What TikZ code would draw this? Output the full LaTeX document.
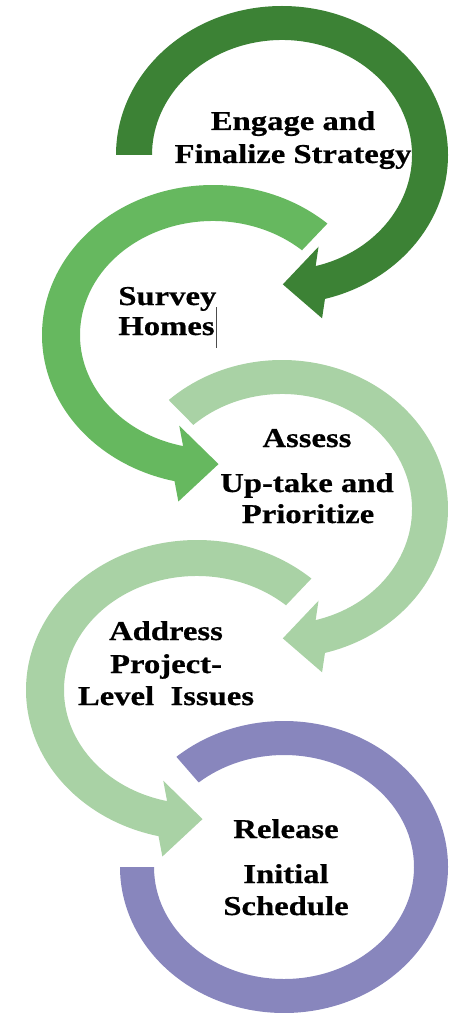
\documentclass[tikz,border=0pt]{standalone}
\usepackage{fontspec}
\setmainfont{Liberation Serif}[FakeStretch=1.2, BoldFeatures={FakeBold=0.6}]
\usepackage{tikz}
\usetikzlibrary{calc}
\usetikzlibrary{positioning}
\definecolor{darkgrn}{HTML}{3C8235}
\definecolor{midgrn}{HTML}{66B85F}
\definecolor{palegrn}{HTML}{A9D2A5}
\definecolor{lilac}{HTML}{8886BD}
% ring arrow: colour, centre, start, end, outer rx, ry, inner rx, ry, turn (1 ccw, -1 cw)
\newcommand{\ringarrow}[9]{%
  \pgfmathsetmacro\hrot{13*#9}
  \pgfmathsetmacro\htip{103*#9}
  \coordinate (ao) at ($(#2)+(#4:#5 and #6)$);
  \coordinate (ai) at ($(#2)+(#4:#7 and #8)$);
  \coordinate (am) at ($(ao)!0.5!(ai)$);
  \fill[#1] ($(#2)+(#3:#5 and #6)$) arc[start angle=#3, end angle=#4, x radius=#5, y radius=#6]
    -- ($(am)!2.1!\hrot:(ao)$) -- ($(am)!2.2!\htip:(ao)$) -- ($(am)!2.1!\hrot:(ai)$)
    -- (ai) arc[start angle=#4, end angle=#3, x radius=#7, y radius=#8] -- cycle;}

\begin{document}
\begin{tikzpicture}[x=0.02cm,y=0.02cm,
    steptext/.style={font=\bfseries\fontsize{15.5}{18}\selectfont, anchor=base, inner sep=0pt}]
  \useasboundingbox (0,0) rectangle (450,-1013);
  \coordinate (c1) at (282,-155);
  \coordinate (c2) at (213,-335);
  \coordinate (c3) at (282,-509);
  \coordinate (c4) at (197,-690);
  \coordinate (c5) at (284,-867);
  % arrows
  \ringarrow{darkgrn}{c1}{180}{-75}{166}{149}{130}{115}{-1}
  \ringarrow{midgrn}{c2}{48}{257}{171}{150}{133}{114}{1}
  \ringarrow{palegrn}{c3}{133}{-75}{166}{149}{130}{115}{-1}
  \ringarrow{palegrn}{c4}{48}{257}{171}{150}{133}{114}{1}
  \fill[lilac] ($(c5)+(131:164 and 146)$) arc[start angle=131, end angle=-180, x radius=164, y radius=146]
    -- ($(c5)+(-180:130 and 112)$) arc[start angle=-180, end angle=131, x radius=130, y radius=112] -- cycle;
  % texts
  \node[steptext] (engage) at (293,-130) {Engage and};
  \node[steptext] (strategy) at (293,-163) {Finalize Strategy};
  \node[steptext, anchor=base west] (survey) at (118,-305) {Survey};
  \node[steptext, anchor=base west] (homes) at (118,-335) {Homes};
  \draw[black!70, line width=0.6pt] ($(homes.base east)+(2,28)$) -- ($(homes.base east)+(2,-13)$);
  \node[steptext] (assess) at (307,-447) {Assess};
  \node[steptext] (uptake) at (307,-492) {Up-take and};
  \node[steptext] (prioritize) at (308,-523) {Prioritize};
  \node[steptext] (address) at (166,-640) {Address};
  \node[steptext] (project) at (166,-673) {Project-};
  \node[steptext] (level) at (166,-705) {Level~~Issues};
  \node[steptext] (release) at (286,-838) {Release};
  \node[steptext] (initial) at (286,-883) {Initial};
  \node[steptext] (schedule) at (286,-915) {Schedule};
\end{tikzpicture}
\end{document}
